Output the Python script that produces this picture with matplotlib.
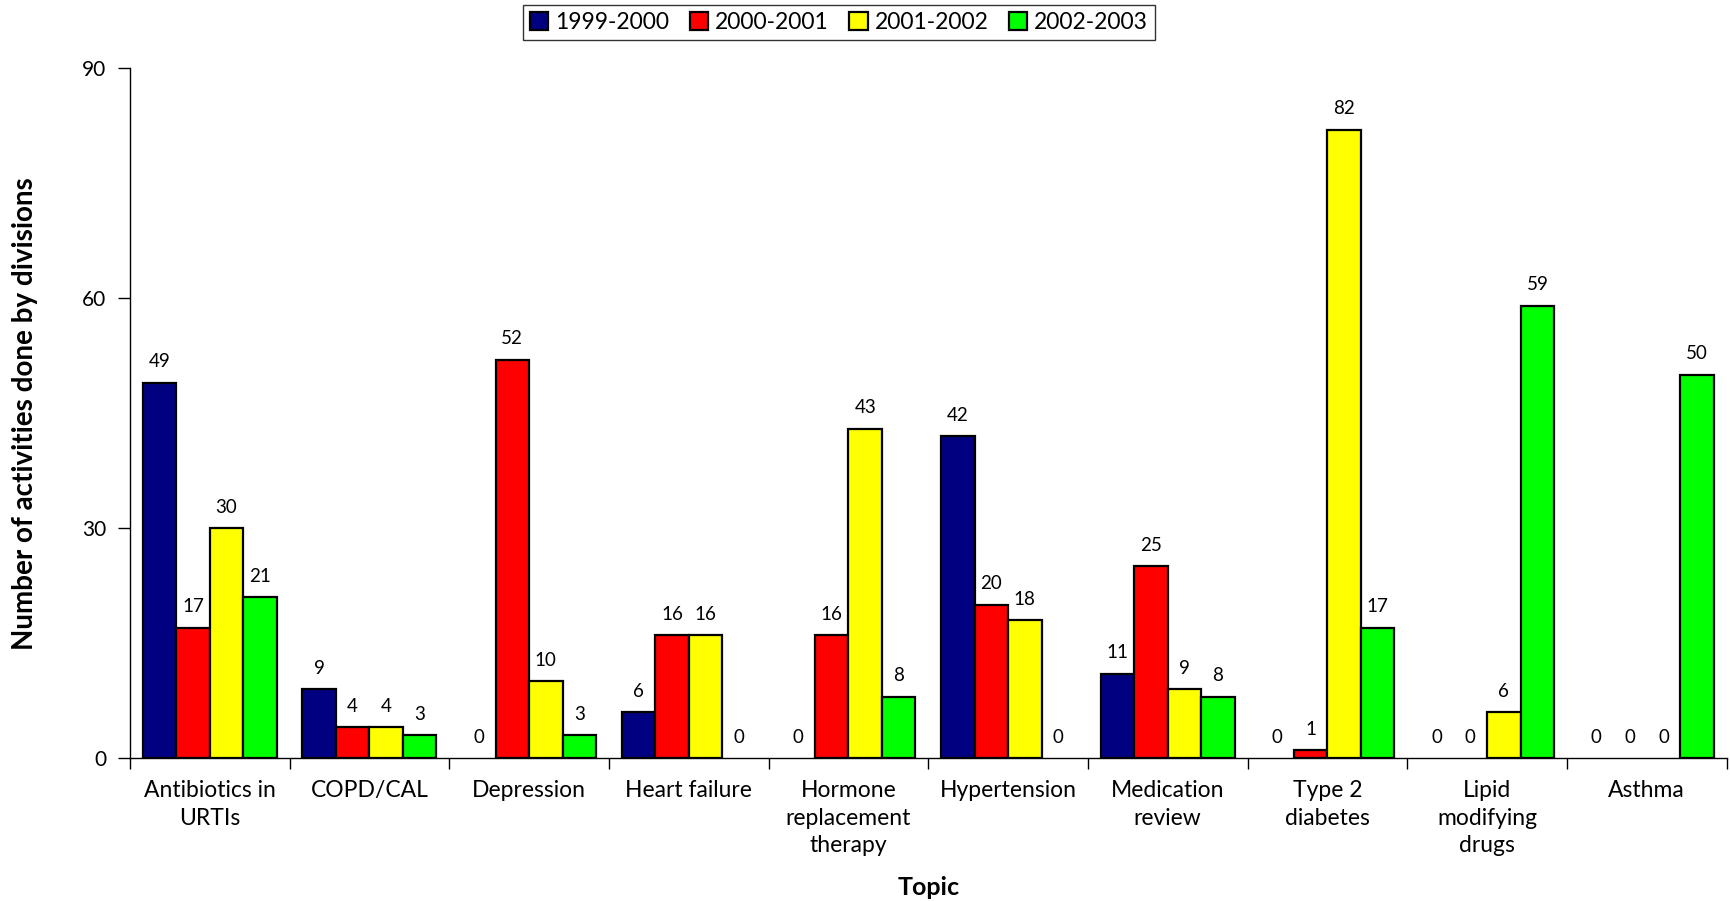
import matplotlib
matplotlib.use("Agg")
import matplotlib.pyplot as plt
import numpy as np

topics = ["Antibiotics in\nURTIs", "COPD/CAL", "Depression", "Heart failure",
          "Hormone\nreplacement\ntherapy", "Hypertension", "Medication\nreview",
          "Type 2\ndiabetes", "Lipid\nmodifying\ndrugs", "Asthma"]
years = ["1999-2000", "2000-2001", "2001-2002", "2002-2003"]
v1999 = [49, 9, 0, 6, 0, 42, 11, 0, 0, 0]
v2000 = [17, 4, 52, 16, 16, 20, 25, 1, 0, 0]
v2001 = [30, 4, 10, 16, 43, 18, 9, 82, 6, 0]
v2002 = [21, 3, 3, 0, 8, 0, 8, 17, 59, 50]
yticks = [0, 30, 60, 90]

series = [v1999, v2000, v2001, v2002]
colors = ["#000080", "#FF0000", "#FFFF00", "#00FF00"]

plt.rcParams["font.family"] = ["Lato", "DejaVu Sans"]

fig = plt.figure(figsize=(17.3, 9.01), dpi=100)
ax = fig.add_axes([0.0751, 0.1587, 0.9229, 0.7653])

x = np.arange(len(topics))
w = 0.21
for i, (vals, c, lab) in enumerate(zip(series, colors, years)):
    pos = x + (i - 1.5) * w
    lws = [1.6 if v > 0 else 0 for v in vals]
    ax.bar(pos, vals, width=w, color=c, edgecolor="black", linewidth=lws, label=lab)
    for xp, v in zip(pos, vals):
        ax.annotate(str(v), (xp, v), xytext=(0, 9), textcoords="offset points",
                    ha="center", va="bottom", fontsize=13.5)

ax.set_xlim(-0.5, len(topics) - 0.5)
ax.set_ylim(0, 90)
ax.set_yticks(yticks)
ax.tick_params(axis="y", length=9, width=1, labelsize=15, pad=8)
ax.set_xticks(np.arange(len(topics) + 1) - 0.5)
ax.set_xticklabels([])
ax.set_xticks(x, minor=True)
ax.set_xticklabels(topics, minor=True, fontsize=16.5, linespacing=1.38)
ax.tick_params(axis="x", which="major", length=8, width=1)
ax.tick_params(axis="x", which="minor", length=0, pad=16)

ax.spines["top"].set_visible(False)
ax.spines["right"].set_visible(False)
ax.spines["left"].set_linewidth(1)
ax.spines["bottom"].set_linewidth(1)

ax.set_ylabel("Number of activities done by divisions", fontsize=20, fontweight="bold", labelpad=32)
ax.set_xlabel("Topic", fontsize=18, fontweight="bold", labelpad=14)

leg = fig.legend(loc="upper center", bbox_to_anchor=(0.485, 0.997), ncol=4, fontsize=16.5,
                 frameon=True, fancybox=False, edgecolor="black", handlelength=0.8,
                 handleheight=0.8, handletextpad=0.3, columnspacing=0.9, borderpad=0.3,
                 borderaxespad=0.1)
leg.get_frame().set_linewidth(1)

fig.savefig("out.png", dpi=100)
